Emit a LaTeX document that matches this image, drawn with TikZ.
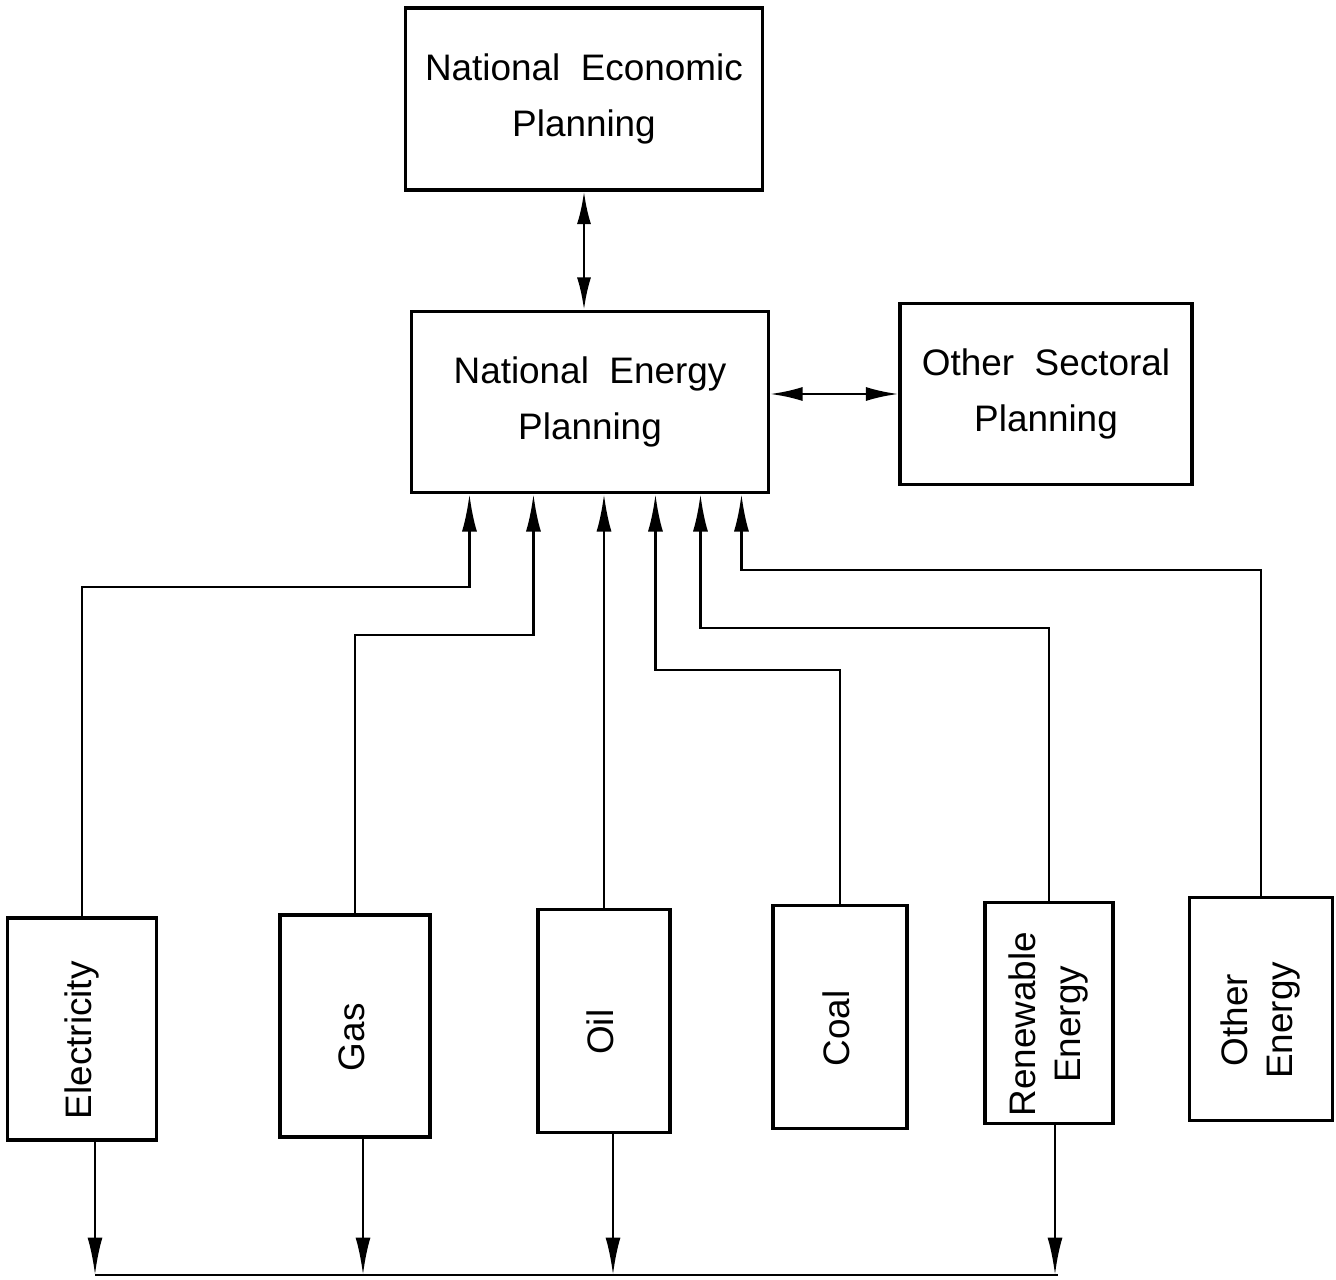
\documentclass[tikz,border=0pt]{standalone}
\usepackage{fontspec}
\setmainfont{Liberation Sans}
\usepackage{graphicx}
\usetikzlibrary{arrows.meta,calc}

\tikzset{
  box/.style={draw, line width=1.8pt, align=center, inner sep=0pt},
  conn/.style={line width=1.6pt},
  tip/.style={conn, -{Latex[length=0.75cm,width=0.3cm]}},
  dbl/.style={conn, {Latex[length=0.65cm,width=0.28cm]}-{Latex[length=0.65cm,width=0.28cm]}},
}
\newcommand{\vtext}[1]{\rotatebox{90}{\begin{tabular}{@{}c@{}}#1\end{tabular}\hspace{0.45cm}}}

\begin{document}
\begin{tikzpicture}[x=0.02cm, y=-0.02cm, font=\fontsize{21}{32}\selectfont]
    \useasboundingbox (0,0) rectangle (1336,1280);
    \def\busy{1275}

    % planning level
    \node[box, minimum width=7.14cm, minimum height=3.64cm] (necon) at (584,99) {National\ \ Economic\\Planning};
    \node[box, minimum width=7.14cm, minimum height=3.62cm] (nenergy) at (590,402) {National\ \ Energy\\Planning};
    \node[box, minimum width=5.84cm, minimum height=3.62cm] (other) at (1046,394) {Other\ \ Sectoral\\Planning};

    % energy sectors
    \begin{scope}[font=\fontsize{21}{26}\selectfont]
        \node[box, minimum width=2.98cm, minimum height=4.44cm] (elec) at (82,1029) {\vtext{Electricity}};
        \node[box, minimum width=3.00cm, minimum height=4.44cm] (gas) at (355,1026) {\vtext{Gas}};
        \node[box, minimum width=2.64cm, minimum height=4.46cm] (oil) at (604,1021) {\vtext{Oil}};
        \node[box, minimum width=2.68cm, minimum height=4.46cm] (coal) at (840,1017) {\vtext{Coal}};
        \node[box, minimum width=2.56cm, minimum height=4.42cm] (renew) at (1049,1013) {\vtext{Renewable\\Energy}};
        \node[box, minimum width=2.86cm, minimum height=4.46cm] (othe) at (1261,1009) {\vtext{Other\\Energy}};
    \end{scope}

    \draw[dbl] (necon.south) -- (necon.south |- nenergy.north);
    \draw[dbl] (nenergy.east |- other.west) -- (other.west);

    % sectors up to energy planning
    \draw[tip] (oil.north) -- (oil.north |- nenergy.south);
    \foreach \src/\dx/\yb in {elec/59.5/587, gas/123.5/635, coal/245.5/670, renew/290.5/628, othe/331.5/570}
        \draw[tip] (\src.north) -- (\src.north |- 0,\yb) -| ($(nenergy.south west)+(\dx,0)$);

    % sectors down to common line
    \coordinate (busl) at (95,\busy);
    \coordinate (busr) at (1058,\busy);
    \draw[conn] (busl) -- (busr);
    \foreach \src/\dx in {elec/13, gas/8, oil/9, renew/6}
        \draw[tip] ($(\src.south)+(\dx,0)$) coordinate (d) -- (d |- busl);
\end{tikzpicture}
\end{document}
